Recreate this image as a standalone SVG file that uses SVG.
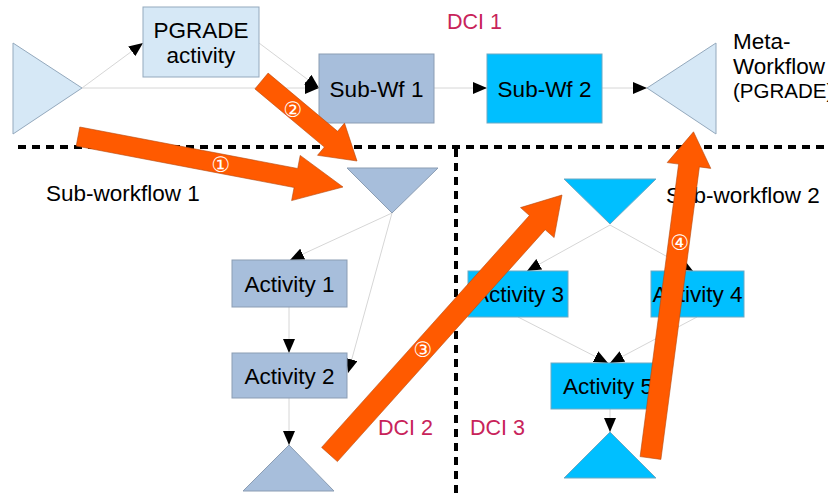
<svg xmlns="http://www.w3.org/2000/svg" width="828" height="495" viewBox="0 0 828 495">
<style>
text{font-family:"Liberation Sans",Arial,sans-serif;font-size:22.5px;fill:#000}
.c{text-anchor:middle}
.dci{fill:#c8235a;font-size:21.5px}
.lb{fill:#d6e8f6;stroke:#94a9bd;stroke-width:1}
.sb{fill:#a7bedb;stroke:#8b9db3;stroke-width:1}
.cy{fill:#00bfff;stroke:#6aa9c4;stroke-width:1}
.ln{stroke:#d6d6d6;stroke-width:1;fill:none;marker-end:url(#ah)}
.dash{stroke:#000;stroke-width:4;stroke-dasharray:8 6;fill:none}
.or{fill:#ff5a00;stroke:#b44a10;stroke-width:0.6}
.num{font-family:"DejaVu Sans",sans-serif;font-size:21px;fill:#fff;text-anchor:middle}
</style>
<defs>
<marker id="ah" markerUnits="userSpaceOnUse" markerWidth="14" markerHeight="12" refX="14" refY="6" orient="auto">
<path d="M0,0 L14,6 L0,12 z" fill="#000"/>
</marker>
</defs>
<g id="dividers">
<line class="dash" x1="18" y1="147" x2="828" y2="147"/>
<line class="dash" x1="456" y1="149" x2="456" y2="495"/>
</g>
<g id="labels">
<text class="dci" x="447" y="29">DCI 1</text>
<text class="dci" x="378" y="435">DCI 2</text>
<text class="dci" x="470" y="435">DCI 3</text>
<text x="46" y="201">Sub-workflow 1</text>
<text x="666" y="203">Sub-workflow 2</text>
<text x="733" y="49">Meta-</text>
<text x="733" y="74">Workflow</text>
<text x="733" y="98" style="font-size:20.5px">(PGRADE)</text>
</g>
<g id="connectors">
<line class="ln" x1="82" y1="88" x2="143" y2="43"/>
<line class="ln" x1="82" y1="88" x2="319" y2="88"/>
<line class="ln" x1="259" y1="43" x2="319" y2="88"/>
<line class="ln" x1="434" y1="88" x2="487" y2="88"/>
<line class="ln" x1="602" y1="88" x2="647" y2="88"/>
<line class="ln" x1="392" y1="213" x2="290" y2="260"/>
<line class="ln" x1="392" y1="213" x2="348" y2="373"/>
<line class="ln" x1="289" y1="307" x2="289" y2="353"/>
<line class="ln" x1="289" y1="398" x2="289" y2="445"/>
<line class="ln" x1="610" y1="225" x2="527" y2="271"/>
<line class="ln" x1="610" y1="225" x2="693" y2="271"/>
<line class="ln" x1="518" y1="317" x2="608" y2="363"/>
<line class="ln" x1="697" y1="317" x2="610" y2="363"/>
<line class="ln" x1="610" y1="409" x2="610" y2="432"/>
</g>
<g id="start">
<polygon class="lb" points="13,43 13,134 82,88"/>
</g>
<g id="pgrade">
<rect class="lb" x="143" y="7" width="116" height="70"/>
<text class="c" x="201" y="38">PGRADE</text>
<text class="c" x="201" y="63">activity</text>
</g>
<g id="subwf1">
<rect class="sb" x="319" y="54" width="115" height="69"/>
<text class="c" x="376.5" y="97">Sub-Wf 1</text>
</g>
<g id="subwf2">
<rect class="cy" x="487" y="54" width="115" height="69"/>
<text class="c" x="544.5" y="97">Sub-Wf 2</text>
</g>
<g id="meta">
<polygon class="lb" points="647,88 716,43 716,134"/>
</g>
<g id="sw1-in">
<polygon class="sb" points="347,168 438,168 392,213"/>
</g>
<g id="activity1">
<rect class="sb" x="232" y="260" width="115" height="47"/>
<text class="c" x="289.5" y="292">Activity 1</text>
</g>
<g id="activity2">
<rect class="sb" x="232" y="353" width="115" height="45"/>
<text class="c" x="289.5" y="384">Activity 2</text>
</g>
<g id="sw1-out">
<polygon class="sb" points="289,445 334,491 243,491"/>
</g>
<g id="sw2-in">
<polygon class="cy" points="564,179 656,179 610,224"/>
</g>
<g id="activity3">
<rect class="cy" x="468" y="271" width="100" height="46"/>
<text class="c" x="519" y="302">Activity 3</text>
</g>
<g id="activity4">
<rect class="cy" x="651" y="271" width="93" height="46"/>
<text class="c" x="697.5" y="302">Activity 4</text>
</g>
<g id="activity5">
<rect class="cy" x="551" y="363" width="114" height="46"/>
<text class="c" x="608" y="394">Activity 5</text>
</g>
<g id="sw2-out">
<polygon class="cy" points="610,432 656,478 564,478"/>
</g>
<g id="flow-arrows">
<polygon class="or" points="79.8,127 297.7,168.5 300.2,155.4 343,187 291.6,200.6 294.1,187.5 76.2,146"/>
<polygon class="or" points="268.1,73.1 337.6,131.3 344.5,123.1 357,161 317.5,155.3 324.4,147.1 254.9,88.9"/>
<polygon class="or" points="321.6,447.4 529.4,215.5 520.5,207.6 562,195 554.1,237.6 545.2,229.7 337.4,461.6"/>
<polygon class="or" points="640.1,456.6 678.6,164.1 667.2,162.6 693.5,131.8 710.8,168.4 699.4,166.9 660.9,459.4"/>
<text class="num" x="221" y="172">①</text>
<text class="num" x="293" y="117">②</text>
<text class="num" x="423" y="357">③</text>
<text class="num" x="680" y="250">④</text>
</g>
</svg>
